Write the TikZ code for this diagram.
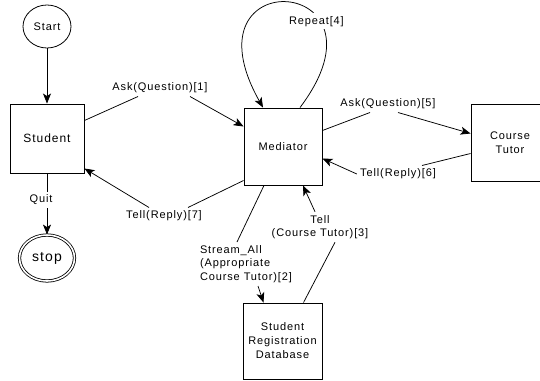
\documentclass[tikz,border=0pt]{standalone}
\usepackage{fontspec}
\setmainfont{Liberation Sans}[LetterSpace=8]
\usetikzlibrary{arrows.meta,shapes.geometric}

\tikzset{
  box/.style={draw, line width=0.9pt, inner sep=0pt, align=center,
    minimum width=78pt, minimum height=77pt,
    font=\fontsize{11}{14}\selectfont},
  term/.style={draw, ellipse, line width=0.8pt, inner sep=0pt,
    font=\fontsize{11}{13.5}\selectfont},
  msg/.style={inner sep=3pt, font=\fontsize{11}{13.5}\selectfont},
  flow/.style={-{Stealth[length=10pt,width=8pt,inset=2.5pt]}}
}

\begin{document}
\begin{tikzpicture}[x=1pt, y=-1pt, line width=0.75pt]
    \useasboundingbox (0,0) rectangle (540,380);

    \node[term, minimum width=48pt, minimum height=43pt] (start) at (47,26.5) {Start};
    \node[box, minimum width=74pt, minimum height=69pt,
      font=\fontsize{12}{14}\selectfont] (student) at (47,138.5) {Student};
    \node[term, double, double distance=1.6pt, minimum width=55pt, minimum height=46pt,
      font=\fontsize{14}{16}\selectfont] (stop) at (47,258) {stop};
    \node[box] (med) at (283,146.5) {Mediator};
    \node[box] (tutor) at (510,142.5) {Course\\Tutor};
    \node[box, minimum width=79pt, minimum height=76pt] (db) at (282.5,341)
      {Student\\Registration\\Database};

    \node[msg] (ask1) at (160,88) {Ask(Question)[1]};
    \node[msg] (tell7) at (164,216) {Tell(Reply)[7]};
    \node[msg] (ask5) at (388,104) {Ask(Question)[5]};
    \node[msg] (tell6) at (398,174) {Tell(Reply)[6]};
    \node[msg, align=left] (stream) at (246,264)
      {Stream\_All\\(Appropriate\\Course Tutor)[2]};
    \node[msg, align=center] (tell3) at (320,227) {Tell\\(Course Tutor)[3]};

    \draw[flow] (start) -- (student);
    \draw[flow] (student) -- node[msg, fill=white, pos=0.43, xshift=-6pt] (quit) {Quit} (stop);

    \draw ([yshift=18pt]student.east) -- ([xshift=-22pt]ask1.south);
    \draw[flow] ([xshift=30pt]ask1.south) -- ([yshift=20pt]med.west);

    \draw ([yshift=-34pt]med.west) -- ([xshift=24pt]tell7.north);
    \draw[flow] ([xshift=-15pt]tell7.north) -- ([yshift=-30pt]student.east);

    \draw ([yshift=16pt]med.east) -- ([xshift=-18pt]ask5.south);
    \draw[flow] ([xshift=10pt]ask5.south) -- ([yshift=9pt]tutor.west);

    \draw ([yshift=-11pt]tutor.west) -- ([xshift=24pt]tell6.north);
    \draw[flow] (tell6.west) -- ([yshift=-12pt]med.east);

    \draw ([xshift=-19pt]med.south) -- ([xshift=-9pt]stream.north);
    \draw[flow] ([xshift=12pt]stream.south) -- ([xshift=-19pt]db.north);

    \draw ([xshift=21pt]db.north) -- ([xshift=15pt]tell3.south);
    \draw[flow] ([xshift=-5pt]tell3.north) -- ([xshift=20pt]med.south);

    \draw[flow] ([xshift=17pt]med.north)
      .. controls (400,-25) and (180,-40) ..
      node[msg, fill=white, pos=0.3, xshift=-4pt] (rep) {Repeat[4]}
      ([xshift=-20pt]med.north);
  \end{tikzpicture}
\end{document}
